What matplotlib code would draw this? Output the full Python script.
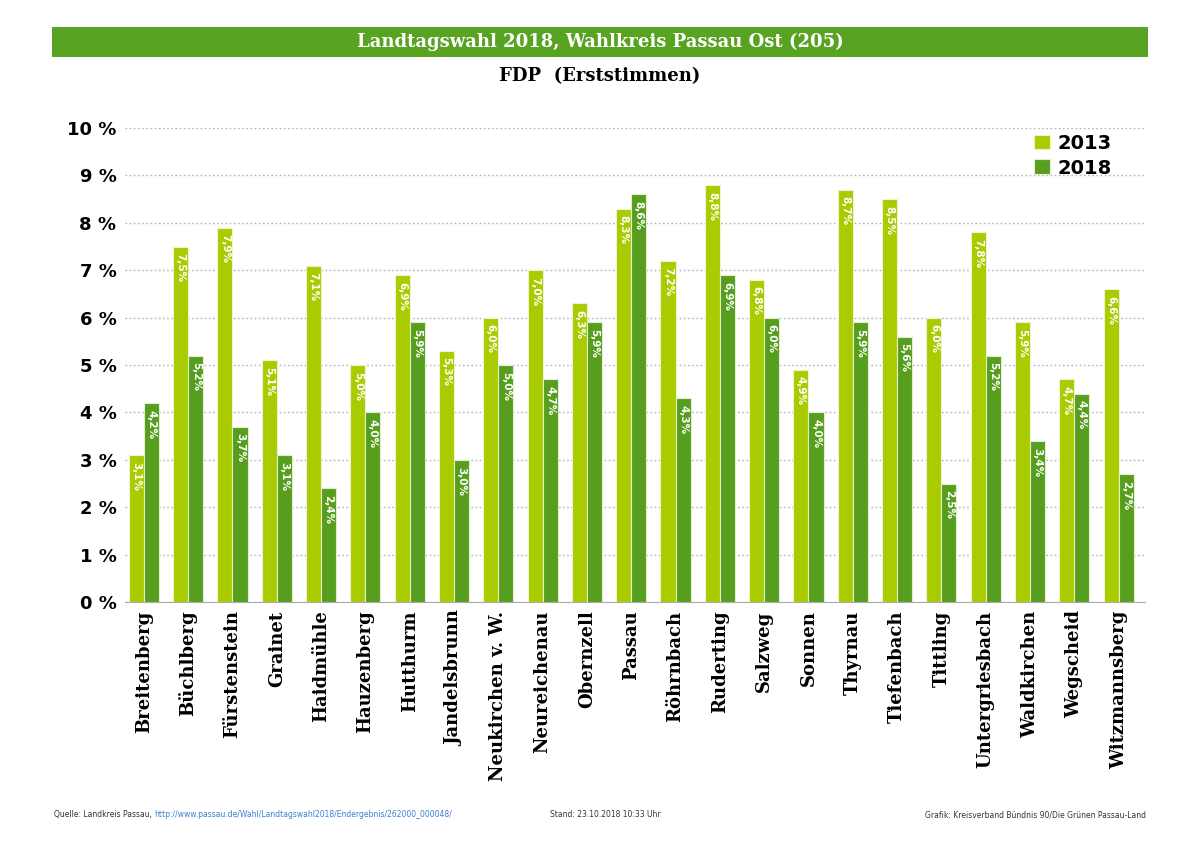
import matplotlib
matplotlib.use("Agg")
import matplotlib.pyplot as plt
from matplotlib.patches import Rectangle
import numpy as np

gemeinden = ["Breitenberg", "Büchlberg", "Fürstenstein", "Grainet", "Haidmühle",
             "Hauzenberg", "Hutthurm", "Jandelsbrunn", "Neukirchen v. W.",
             "Neureichenau", "Obernzell", "Passau", "Röhrnbach", "Ruderting",
             "Salzweg", "Sonnen", "Thyrnau", "Tiefenbach", "Tittling",
             "Untergriesbach", "Waldkirchen", "Wegscheid", "Witzmannsberg"]
werte_2013 = [3.1, 7.5, 7.9, 5.1, 7.1, 5.0, 6.9, 5.3, 6.0, 7.0, 6.3, 8.3,
              7.2, 8.8, 6.8, 4.9, 8.7, 8.5, 6.0, 7.8, 5.9, 4.7, 6.6]
werte_2018 = [4.2, 5.2, 3.7, 3.1, 2.4, 4.0, 5.9, 3.0, 5.0, 4.7, 5.9, 8.6,
              4.3, 6.9, 6.0, 4.0, 5.9, 5.6, 2.5, 5.2, 3.4, 4.4, 2.7]
jahre = ["2013", "2018"]
yticks = list(range(0, 11))

GRUEN_HELL = "#a8cc00"
GRUEN_DUNKEL = "#579e1f"
BAND = "#58a321"

fig = plt.figure(figsize=(12, 8.48), dpi=100)

# title band
fig.patches.append(Rectangle((0.043, 0.933), 0.914, 0.035, transform=fig.transFigure,
                             facecolor=BAND, edgecolor="none"))
fig.text(0.5, 0.951, "Landtagswahl 2018, Wahlkreis Passau Ost (205)", color="white",
         ha="center", va="center", fontsize=13, fontweight="bold", family="DejaVu Serif")
fig.text(0.5, 0.910, "FDP  (Erststimmen)", color="black", ha="center", va="center",
         fontsize=13, fontweight="bold", family="DejaVu Serif")

ax = fig.add_axes([0.104, 0.290, 0.850, 0.559])
x = np.arange(len(gemeinden))
w = 0.34
b1 = ax.bar(x - w / 2, werte_2013, w, color=GRUEN_HELL, edgecolor="#eef3d0",
            linewidth=0.8, label=jahre[0], zorder=3)
b2 = ax.bar(x + w / 2, werte_2018, w, color=GRUEN_DUNKEL, edgecolor="#e4eed0",
            linewidth=0.8, label=jahre[1], zorder=3)

for bars, vals in ((b1, werte_2013), (b2, werte_2018)):
    for r, v in zip(bars, vals):
        ax.text(r.get_x() + r.get_width() / 2, v - 0.14,
                f"{v:.1f}%".replace(".", ","), rotation=270, ha="center", va="top",
                color="white", fontsize=7.5, fontweight="bold", zorder=4)

ax.set_xlim(-0.43, 22.59)
ax.set_ylim(0, 10)
ax.set_yticks(yticks)
ax.set_yticklabels([f"{t} %" for t in yticks], fontsize=13, fontweight="bold")
ax.set_xticks(x)
ax.set_xticklabels(gemeinden, rotation=90, fontsize=13, fontweight="bold",
                   family="DejaVu Serif")
ax.tick_params(length=0, pad=6)
ax.yaxis.grid(True, linestyle=(0, (1.2, 1.8)), color="#b4b4b4", linewidth=1, zorder=0)
for s in ("top", "right", "left"):
    ax.spines[s].set_visible(False)
ax.spines["bottom"].set_color("#aaaaaa")

ax.legend(loc="upper right", frameon=False, handlelength=0.8,
          handleheight=0.8, handletextpad=0.4, labelspacing=0.3,
          prop={"weight": "heavy", "size": 14}, bbox_to_anchor=(0.985, 1.025))

# footer
quelle = fig.text(0.045, 0.039, "Quelle: Landkreis Passau, ", fontsize=5.5,
                  color="#333333", ha="left", va="center")
fig.canvas.draw()
bb = quelle.get_window_extent().transformed(fig.transFigure.inverted())
fig.text(bb.x1, 0.039, "http://www.passau.de/Wahl/Landtagswahl2018/Endergebnis/262000_000048/",
         fontsize=5.5, color="#3d7fd0", ha="left", va="center")
fig.text(0.458, 0.039, "Stand: 23.10.2018 10:33 Uhr", fontsize=5.5, color="#333333",
         ha="left", va="center")
fig.text(0.955, 0.039, "Grafik: Kreisverband Bündnis 90/Die Grünen Passau-Land",
         fontsize=5.5, color="#333333", ha="right", va="center")

fig.savefig("out.png", dpi=100, facecolor="white")
